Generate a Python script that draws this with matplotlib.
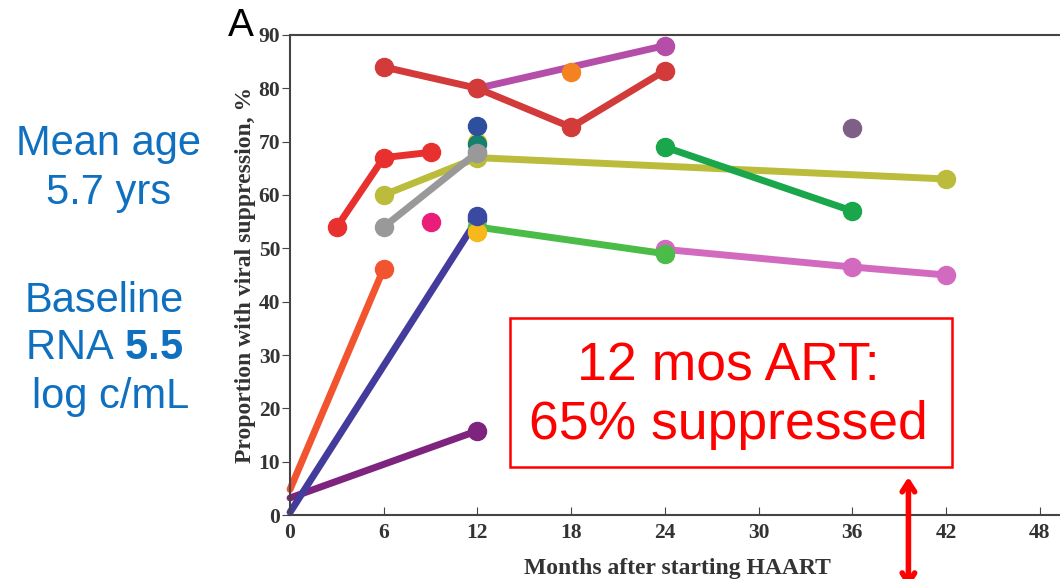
import matplotlib.pyplot as plt
from matplotlib.patches import Rectangle

plt.rcParams['mathtext.fontset'] = 'custom'
plt.rcParams['mathtext.bf'] = 'Liberation Sans:bold'
plt.rcParams['mathtext.rm'] = 'Liberation Sans'

# studies drawn as joined lines: months, % with viral suppression
red_x = [6, 12, 18, 24]
red_y = [84, 80, 72.7, 83.3]
mag_x = [12, 24]
mag_y = [80, 88]
green_x = [24, 36]
green_y = [69, 57]
lgreen_x = [12, 24]
lgreen_y = [54, 49]
pink_x = [24, 36, 42]
pink_y = [49.8, 46.5, 45]
olive_x = [6, 12, 42]
olive_y = [60, 67, 63]
gray_x = [6, 12]
gray_y = [54, 68]
bred_x = [3, 6, 9]
bred_y = [54, 67, 68]
ored_x = [0, 6]
ored_y = [4.8, 46.2]
blue_x = [0, 12]
blue_y = [0.5, 55.5]
purple_x = [0, 12]
purple_y = [3.2, 15.8]

# single-time-point studies
singles_x = [18, 9, 12, 12, 12, 36, 12, 12, 12]
singles_y = [83, 55, 70, 69.5, 73, 72.5, 53, 56, 67.8]
singles_c = ['#f58220', '#ea1e79', '#f0d020', '#158070', '#2e4e9e', '#7f5f85',
             '#f7b81c', '#3a4aa0', '#999999']

fig = plt.figure(figsize=(10.6, 5.79), dpi=100)
ax = fig.add_axes([0.2736, 0.1105, 0.7264, 0.8291])

lw, ms = 5, 13
lines = [
    (ored_x, ored_y, '#f25430'),
    (purple_x, purple_y, '#7e237e'),
    (blue_x, blue_y, '#433c9c'),
    (bred_x, bred_y, '#e8302e'),
    (olive_x, olive_y, '#bcbc3c'),
    (gray_x, gray_y, '#999999'),
    (mag_x, mag_y, '#b44ea8'),
    (red_x, red_y, '#d33a3a'),
    (green_x, green_y, '#1aa64a'),
    (pink_x, pink_y, '#d26bc0'),
    (lgreen_x, lgreen_y, '#4cbc48'),
]
for xs, ys, c in lines:
    # baseline points (month 0) carry no marker
    mk = [i for i, x in enumerate(xs) if x > 0]
    ax.plot(xs, ys, color=c, lw=lw, marker='o', ms=ms, markevery=mk,
            solid_capstyle='round', clip_on=False)
for x, y, c in zip(singles_x, singles_y, singles_c):
    ax.plot([x], [y], 'o', color=c, ms=ms, clip_on=False)

ax.set_xlim(0, 49.3)
ax.set_ylim(0, 90)
ax.set_xticks(range(0, 49, 6))
ax.set_yticks(range(0, 91, 10))
ax.spines['right'].set_visible(False)
for s in ['left', 'bottom', 'top']:
    ax.spines[s].set_color('#444444')
    ax.spines[s].set_linewidth(1.5)
ax.tick_params(axis='x', direction='in', length=6, pad=6, color='#444444')
ax.tick_params(axis='y', direction='out', length=6, pad=1, color='#444444')
for lab in ax.get_xticklabels() + ax.get_yticklabels():
    lab.set_fontfamily('Liberation Serif')
    lab.set_fontweight('bold')
    lab.set_fontsize(15.5)
    lab.set_color('#333333')
ax.set_xlabel('Months after starting HAART', family='Liberation Serif',
              weight='bold', fontsize=17, color='#333333')
ax.xaxis.set_label_coords(0.5035, -0.09)
ax.set_ylabel('Proportion with viral suppression, %', family='Liberation Serif',
              weight='bold', fontsize=17, color='#333333', labelpad=2)

fig.text(0.215, 0.955, 'A', fontsize=28, family='Liberation Sans', va='center')

blue = '#1070c0'
kw = dict(color=blue, fontsize=30, family='Liberation Sans', ha='center', va='center')
fig.text(0.102, 0.752, 'Mean age', **kw)
fig.text(0.102, 0.666, '5.7 yrs', **kw)
fig.text(0.098, 0.481, 'Baseline', **kw)
fig.text(0.098, 0.399, 'RNA $\\mathbf{5.5}$', **kw)
fig.text(0.104, 0.314, 'log c/mL', **kw)

fig.patches.append(Rectangle((0.481, 0.1934), 0.417, 0.2574, transform=fig.transFigure,
                             fc='white', ec='#ff0000', lw=1.8, zorder=5))
fig.text(0.687, 0.316, '12 mos ART:\n65% suppressed', color='#ff0000', fontsize=38.5,
         family='Liberation Sans', ha='center', va='center', linespacing=1.22, zorder=6)

ax.annotate('', xy=(0.857, 0.181), xytext=(0.857, -0.02), xycoords='figure fraction',
            textcoords='figure fraction',
            arrowprops=dict(arrowstyle='<->,head_width=0.45,head_length=0.7',
                            color='#ff0000', lw=4))

fig.savefig('out.png', dpi=100)
